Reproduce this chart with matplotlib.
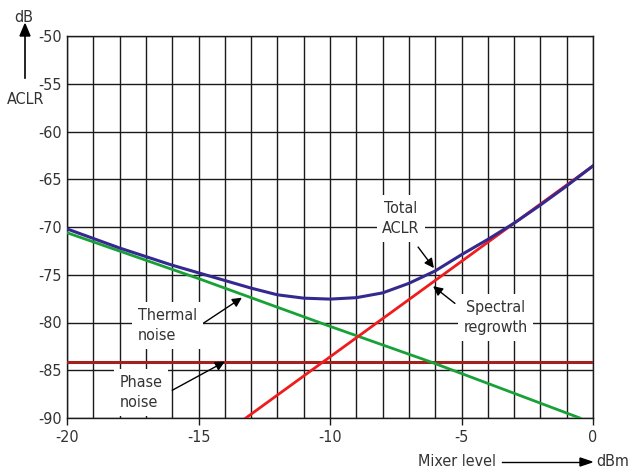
import matplotlib.pyplot as plt
from matplotlib import font_manager

# Mixer level (dBm) vs ACLR (dB)
thermal_x = [-20, -15, -10, -6.2, -0.5]
thermal_y = [-70.6, -75.4, -80.4, -84.1, -90.0]

regrowth_x = [-13.2, -11.1, -10.0, -5.0, 0.0]
regrowth_y = [-90.0, -85.8, -83.6, -73.6, -63.6]

phase_x = [-20, 0]
phase_y = [-84.1, -84.1]

total_x = [-20, -18, -16, -15, -14, -13, -12, -11, -10, -9, -8, -7, -6, -5, -4, -3, -2, -1, 0]
total_y = [-70.2, -72.2, -74.0, -74.8, -75.6, -76.4, -77.1, -77.45, -77.55, -77.4, -76.9, -75.9,
           -74.6, -72.9, -71.3, -69.6, -67.7, -65.7, -63.6]

x_ticks = [-20, -15, -10, -5, 0]
y_ticks = [-50, -55, -60, -65, -70, -75, -80, -85, -90]

# narrow sans face if one is around
fonts = {(f.name, f.stretch) for f in font_manager.fontManager.ttflist}
if any(n == 'Liberation Sans Narrow' for n, _ in fonts):
    plt.rcParams['font.family'] = ['Liberation Sans Narrow', 'DejaVu Sans']
elif ('DejaVu Sans', 'condensed') in fonts or ('DejaVu Sans', 'semi-condensed') in fonts:
    plt.rcParams['font.family'] = ['DejaVu Sans']
    plt.rcParams['font.stretch'] = 'condensed'
else:
    plt.rcParams['font.family'] = ['Liberation Sans', 'DejaVu Sans']
plt.rcParams['font.size'] = 11.5

fig = plt.figure(figsize=(6.4, 4.68), dpi=100)
ax = fig.add_axes([67 / 640, 1 - 418 / 468, 526 / 640, 382 / 468])

ax.set_xlim(-20, 0)
ax.set_ylim(-90, -50)
ax.set_xticks(range(-20, 1), minor=True)
ax.set_xticks(x_ticks)
ax.set_yticks(y_ticks)
ax.set_xticklabels([str(v) for v in x_ticks])
ax.set_yticklabels([str(v) for v in y_ticks])
ax.grid(True, which='both', color='#1a1a1a', linewidth=1.0)
ax.tick_params(axis='x', which='major', direction='out', length=5, width=1, color='#1a1a1a', pad=4)
ax.tick_params(axis='x', which='minor', length=0)
ax.tick_params(axis='y', length=0, pad=4)
for s in ax.spines.values():
    s.set_color('#1a1a1a')
    s.set_linewidth(1.0)
ax.set_axisbelow(True)

ax.plot(phase_x, phase_y, color='#a3211c', lw=2.2, zorder=3)
ax.plot(thermal_x, thermal_y, color='#17a137', lw=2.0, zorder=3)
ax.plot(regrowth_x, regrowth_y, color='#ee1c1c', lw=2.0, zorder=3)
ax.plot(total_x, total_y, color='#33298f', lw=2.2, zorder=4)

box = dict(facecolor='white', edgecolor='none', pad=4)
arrow = dict(arrowstyle='-|>', color='black', lw=1.0, mutation_scale=14, shrinkA=0, shrinkB=0)
label = dict(va='center', color='#333333', bbox=box, zorder=5, linespacing=1.45)

ax.text(-17.3, -80.3, 'Thermal\nnoise', ha='left', multialignment='left', **label)
ax.annotate('', xy=(-13.35, -77.4), xytext=(-14.8, -80.05), arrowprops=arrow, zorder=6)

ax.text(-18.0, -87.3, 'Phase\nnoise', ha='left', multialignment='left', **label)
ax.annotate('', xy=(-14.0, -84.1), xytext=(-16.0, -87.1), arrowprops=arrow, zorder=6)

ax.text(-7.3, -69.1, 'Total\nACLR', ha='center', multialignment='center', **label)
ax.annotate('', xy=(-6.05, -74.3), xytext=(-6.65, -72.1), arrowprops=arrow, zorder=6)

ax.text(-3.7, -79.5, 'Spectral\nregrowth', ha='center', multialignment='center', **label)
ax.annotate('', xy=(-6.08, -76.2), xytext=(-5.25, -78.0), arrowprops=arrow, zorder=6)

# axis captions with arrows
fig.text(24 / 640, 1 - 18 / 468, 'dB', ha='center', va='center', color='#333333')
fig.text(26 / 640, 1 - 100 / 468, 'ACLR', ha='center', va='center', color='#333333')
fig.add_artist(plt.Line2D([25 / 640, 25 / 640], [1 - 78 / 468, 1 - 34 / 468], color='black', lw=1.2))
fig.patches.append(plt.Polygon([[20 / 640, 1 - 36 / 468], [30 / 640, 1 - 36 / 468], [25 / 640, 1 - 24 / 468]],
                               closed=True, color='black', transform=fig.transFigure, figure=fig))

fig.text(457 / 640, 1 - 462 / 468, 'Mixer level', ha='center', va='center', color='#333333')
fig.add_artist(plt.Line2D([502 / 640, 582 / 640], [1 - 462 / 468, 1 - 462 / 468], color='black', lw=1.0))
fig.patches.append(plt.Polygon([[580 / 640, 1 - 458 / 468], [580 / 640, 1 - 466 / 468], [592 / 640, 1 - 462 / 468]],
                               closed=True, color='black', transform=fig.transFigure, figure=fig))
fig.text(613 / 640, 1 - 462 / 468, 'dBm', ha='center', va='center', color='#333333')

for lab in ax.get_xticklabels() + ax.get_yticklabels():
    lab.set_color('#333333')

fig.savefig('out.png', dpi=100)
